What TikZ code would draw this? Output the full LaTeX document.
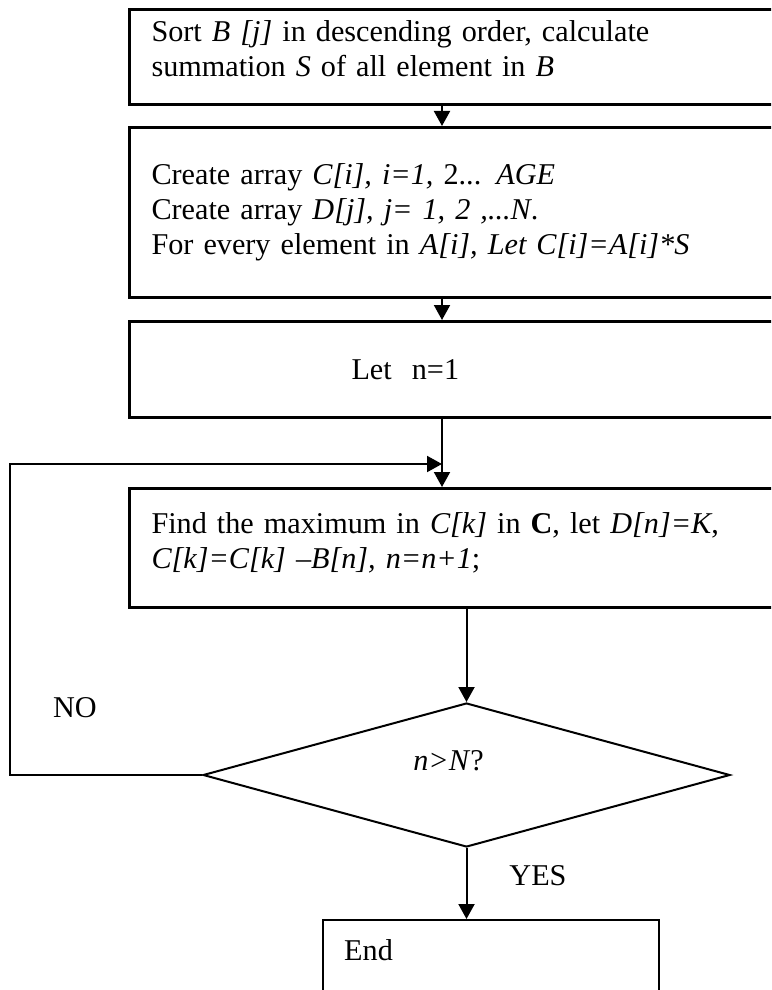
\documentclass[tikz,border=0pt]{standalone}
\usepackage{fontspec}
\setmainfont{Liberation Serif}
\usetikzlibrary{positioning,shapes.geometric,arrows.meta}

% extra depth under the last line, to lift the text in its box
\newcommand{\padbot}[1]{\rule[-#1]{0pt}{#1}}

\begin{document}
\begin{tikzpicture}[
    x=0.5pt,
    y=-0.5pt,
    font=\fontsize{15.1}{17.5}\selectfont,
    stepbox/.style={
        draw,
        line width=1.5pt,
        anchor=north west,
        align=left,
        text width=314pt,
        inner xsep=11pt,
        inner ysep=0pt
    },
    decision/.style={draw, diamond, line width=1pt, inner sep=0pt,
        minimum width=263.5pt, minimum height=72pt},
    endbox/.style={draw, line width=1.2pt, anchor=north west, align=left,
        text width=147pt, inner xsep=10.5pt, inner ysep=0pt, minimum height=50pt},
    arrow/.style={-{Triangle[length=7.5pt,width=8pt]}, line width=1pt},
    answer/.style={inner sep=0pt}
]
\useasboundingbox (0,0) rectangle (771,990);
\clip (0,0) rectangle (771,990);

% ============================================================
% BOXES
% ============================================================
\node[stepbox, minimum height=47.5pt] (sortbox) at (128,8)
    {Sort \textit{B [j]} in descending order, calculate\\
     summation \textit{S} of all element in \textit{B}\padbot{8pt}};
\node[stepbox, minimum height=85pt] (arraybox) at (128,126)
    {Create array \textit{C[i], i=1,} 2... \textit{AGE}\\
     Create array \textit{D[j], j= 1, 2 ,...N}.\\
     For every element in \textit{A[i], Let C[i]=A[i]*S}};
\node[stepbox, minimum height=48pt, inner xsep=111pt, text width=214pt] (initbox) at (128,320)
    {Let\ \ n=1};
\node[stepbox, minimum height=59.5pt] (findbox) at (128,487)
    {Find the maximum in \textit{C[k]} in \textbf{C}, let \textit{D[n]=K},\\
     \textit{C[k]=C[k] \textendash B[n], n=n+1};\padbot{7pt}};

% ============================================================
% TEST AND END
% ============================================================
\node[decision] (test) at (466.5,775)
    {\makebox[0pt]{\smash{\raisebox{2.5pt}{\textit{n>N}?}}\hspace{18pt}}};
\node[endbox] (endbox) at (322,919) {End\padbot{20pt}};

\node[answer] (no) at (75,708) {NO};
\node[answer] (yes) at (538,876) {YES};

% ============================================================
% CONNECTORS
% ============================================================
\coordinate (mid) at (442,0);
\coordinate (loopl) at (10,464);
\coordinate (joint) at (mid |- loopl);

\draw[arrow] (sortbox.south -| mid) -- (arraybox.north -| mid);
\draw[arrow] (arraybox.south -| mid) -- (initbox.north -| mid);
\draw[arrow] (initbox.south -| mid) -- (findbox.north -| mid);
\draw[arrow] (test.west) -| (loopl) -- (joint);
\draw[arrow] (findbox.south -| test.north) -- (test.north);
\draw[arrow] (test.south) -- (test.south |- endbox.north);

\end{tikzpicture}
\end{document}
